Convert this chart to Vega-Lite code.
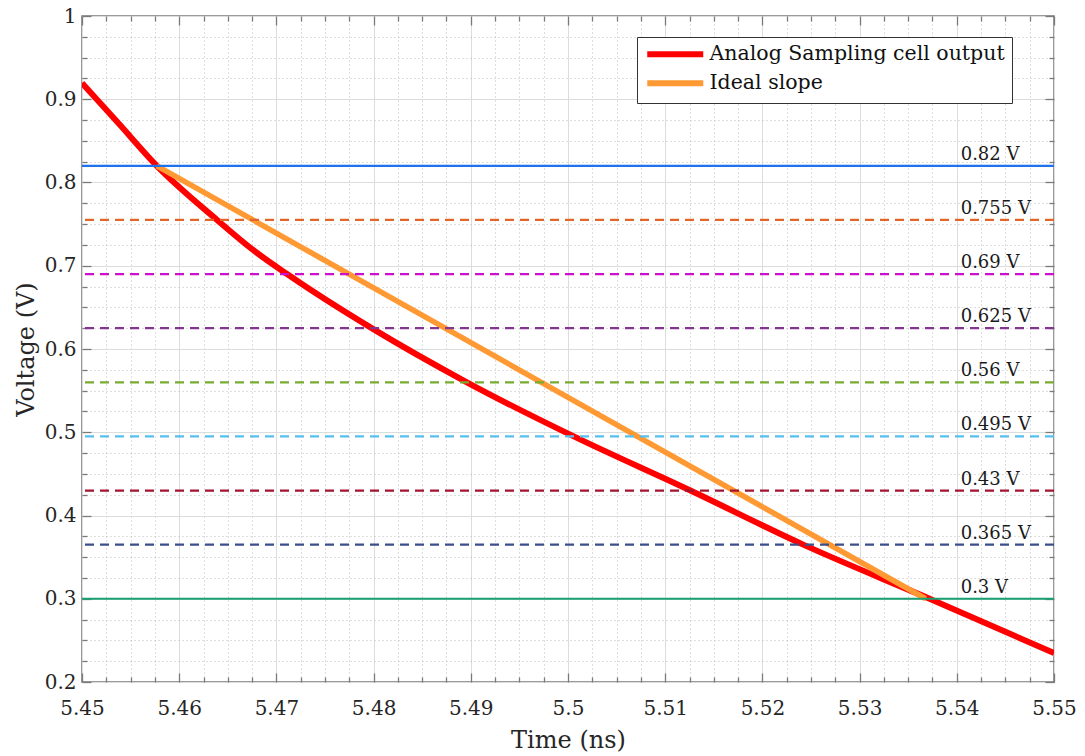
{
  "$schema": "https://vega.github.io/schema/vega-lite/v6.json",
  "width": 972,
  "height": 666,
  "autosize": "none",
  "padding": {"left": 82, "top": 16, "right": 31, "bottom": 74},
  "background": "white",
  "config": {
    "font": "DejaVu Serif",
    "view": {"stroke": "#7a7a7a", "strokeWidth": 1.5}
  },
  "datasets": {
    "curve": [
      {"series": "Analog Sampling cell output", "t": 5.45, "v": 0.9195},
      {"series": "Analog Sampling cell output", "t": 5.4538, "v": 0.8705},
      {"series": "Analog Sampling cell output", "t": 5.4577, "v": 0.82},
      {"series": "Analog Sampling cell output", "t": 5.4639, "v": 0.755},
      {"series": "Analog Sampling cell output", "t": 5.4676, "v": 0.719},
      {"series": "Analog Sampling cell output", "t": 5.4711, "v": 0.69},
      {"series": "Analog Sampling cell output", "t": 5.4798, "v": 0.625},
      {"series": "Analog Sampling cell output", "t": 5.4896, "v": 0.56},
      {"series": "Analog Sampling cell output", "t": 5.5006, "v": 0.495},
      {"series": "Analog Sampling cell output", "t": 5.5126, "v": 0.43},
      {"series": "Analog Sampling cell output", "t": 5.5242, "v": 0.365},
      {"series": "Analog Sampling cell output", "t": 5.5372, "v": 0.3},
      {"series": "Analog Sampling cell output", "t": 5.55, "v": 0.2348}
    ],
    "ideal": [
      {"series": "Ideal slope", "t": 5.4577, "v": 0.82},
      {"series": "Ideal slope", "t": 5.5368, "v": 0.3}
    ],
    "levels": [
      {"v": 0.82, "label": "0.82 V"},
      {"v": 0.755, "label": "0.755 V"},
      {"v": 0.69, "label": "0.69 V"},
      {"v": 0.625, "label": "0.625 V"},
      {"v": 0.56, "label": "0.56 V"},
      {"v": 0.495, "label": "0.495 V"},
      {"v": 0.43, "label": "0.43 V"},
      {"v": 0.365, "label": "0.365 V"},
      {"v": 0.3, "label": "0.3 V"}
    ]
  },
  "resolve": {"axis": {"x": "independent", "y": "independent"}, "scale": {"color": "independent"}},
  "layer": [
    {
      "data": {"name": "curve"},
      "mark": {"type": "line", "strokeWidth": 6, "interpolate": "monotone", "clip": true},
      "encoding": {
        "x": {
          "field": "t", "type": "quantitative",
          "scale": {"domain": [5.45, 5.55], "nice": false, "zero": false},
          "axis": {
            "orient": "bottom",
            "title": "Time (ns)",
            "titleFont": "DejaVu Serif", "titleFontSize": 24, "titleFontWeight": "normal", "titleColor": "#262626", "titlePadding": 6,
            "values": [5.45, 5.4525, 5.455, 5.4575, 5.46, 5.4625, 5.465, 5.4675, 5.47, 5.4725, 5.475, 5.4775, 5.48, 5.4825, 5.485, 5.4875, 5.49, 5.4925, 5.495, 5.4975, 5.5, 5.5025, 5.505, 5.5075, 5.51, 5.5125, 5.515, 5.5175, 5.52, 5.5225, 5.525, 5.5275, 5.53, 5.5325, 5.535, 5.5375, 5.54, 5.5425, 5.545, 5.5475, 5.55],
            "labelExpr": "abs(datum.value*100 - round(datum.value*100)) < 0.001 ? format(datum.value, '.3~f') : ''",
            "labelFont": "DejaVu Serif", "labelFontSize": 20, "labelColor": "#262626", "labelPadding": 25,
            "labelFlush": false, "labelOverlap": false,
            "domain": false,
            "tickColor": "#7a7a7a", "tickWidth": 1.3,
            "tickSize": {"condition": {"test": "abs(datum.value*100 - round(datum.value*100)) < 0.001", "value": -9}, "value": -5},
            "grid": true,
            "gridColor": {"condition": {"test": "abs(datum.value*100 - round(datum.value*100)) < 0.001", "value": "#dcdcdc"}, "value": "#bdbdbd"},
            "gridDash": {"condition": {"test": "abs(datum.value*100 - round(datum.value*100)) < 0.001", "value": []}, "value": [1, 3]},
            "gridWidth": 1
          }
        },
        "y": {
          "field": "v", "type": "quantitative",
          "scale": {"domain": [0.2, 1], "nice": false, "zero": false},
          "axis": {
            "orient": "left",
            "title": "Voltage (V)",
            "titleFont": "DejaVu Serif", "titleFontSize": 24, "titleFontWeight": "normal", "titleColor": "#262626", "titlePadding": 6,
            "values": [0.2, 0.225, 0.25, 0.275, 0.3, 0.325, 0.35, 0.375, 0.4, 0.425, 0.45, 0.475, 0.5, 0.525, 0.55, 0.575, 0.6, 0.625, 0.65, 0.675, 0.7, 0.725, 0.75, 0.775, 0.8, 0.825, 0.85, 0.875, 0.9, 0.925, 0.95, 0.975, 1],
            "labelExpr": "abs(datum.value*10 - round(datum.value*10)) < 0.001 ? format(datum.value, '.2~f') : ''",
            "labelFont": "DejaVu Serif", "labelFontSize": 20, "labelColor": "#262626", "labelPadding": 15,
            "labelFlush": false, "labelOverlap": false,
            "domain": false,
            "tickColor": "#7a7a7a", "tickWidth": 1.3,
            "tickSize": {"condition": {"test": "abs(datum.value*10 - round(datum.value*10)) < 0.001", "value": -9}, "value": -5},
            "grid": true,
            "gridColor": {"condition": {"test": "abs(datum.value*10 - round(datum.value*10)) < 0.001", "value": "#dcdcdc"}, "value": "#bdbdbd"},
            "gridDash": {"condition": {"test": "abs(datum.value*10 - round(datum.value*10)) < 0.001", "value": []}, "value": [1, 3]},
            "gridWidth": 1
          }
        },
        "color": {
          "field": "series", "type": "nominal",
          "scale": {"domain": ["Analog Sampling cell output", "Ideal slope"], "range": ["#ff0000", "#ff9933"]},
          "legend": {
            "title": null,
            "orient": "none",
            "legendX": 555,
            "legendY": 21,
            "direction": "vertical",
            "fillColor": "white",
            "strokeColor": "#333333",
            "padding": 7,
            "rowPadding": 4,
            "symbolType": "M-4,0H4",
            "symbolSize": 196,
            "symbolStrokeWidth": 6,
            "symbolOffset": 21,
            "labelOffset": 24,
            "labelFont": "DejaVu Serif",
            "labelFontSize": 20.5,
            "labelColor": "#111111",
            "labelLimit": 500
          }
        }
      }
    },
    {
      "data": {"name": "ideal"},
      "mark": {"type": "line", "strokeWidth": 5.5, "clip": true},
      "encoding": {
        "x": {
          "field": "t", "type": "quantitative",
          "axis": {
            "orient": "top", "title": null, "labels": false, "grid": false, "domain": false,
            "values": [5.45, 5.4525, 5.455, 5.4575, 5.46, 5.4625, 5.465, 5.4675, 5.47, 5.4725, 5.475, 5.4775, 5.48, 5.4825, 5.485, 5.4875, 5.49, 5.4925, 5.495, 5.4975, 5.5, 5.5025, 5.505, 5.5075, 5.51, 5.5125, 5.515, 5.5175, 5.52, 5.5225, 5.525, 5.5275, 5.53, 5.5325, 5.535, 5.5375, 5.54, 5.5425, 5.545, 5.5475, 5.55],
            "tickColor": "#7a7a7a", "tickWidth": 1.3,
            "tickSize": {"condition": {"test": "abs(datum.value*100 - round(datum.value*100)) < 0.001", "value": -9}, "value": -5}
          }
        },
        "y": {
          "field": "v", "type": "quantitative",
          "axis": {
            "orient": "right", "title": null, "labels": false, "grid": false, "domain": false,
            "values": [0.2, 0.225, 0.25, 0.275, 0.3, 0.325, 0.35, 0.375, 0.4, 0.425, 0.45, 0.475, 0.5, 0.525, 0.55, 0.575, 0.6, 0.625, 0.65, 0.675, 0.7, 0.725, 0.75, 0.775, 0.8, 0.825, 0.85, 0.875, 0.9, 0.925, 0.95, 0.975, 1],
            "tickColor": "#7a7a7a", "tickWidth": 1.3,
            "tickSize": {"condition": {"test": "abs(datum.value*10 - round(datum.value*10)) < 0.001", "value": -9}, "value": -5}
          }
        },
        "color": {
          "field": "series", "type": "nominal",
          "scale": {"domain": ["Analog Sampling cell output", "Ideal slope"], "range": ["#ff0000", "#ff9933"]},
          "legend": null
        }
      }
    },
    {
      "data": {"name": "levels"},
      "mark": {"type": "rule", "strokeWidth": 2.2},
      "encoding": {
        "y": {"field": "v", "type": "quantitative", "axis": null},
        "color": {
          "field": "label", "type": "nominal", "legend": null,
          "scale": {
            "domain": ["0.82 V", "0.755 V", "0.69 V", "0.625 V", "0.56 V", "0.495 V", "0.43 V", "0.365 V", "0.3 V"],
            "range": ["#1f72ee", "#e0662b", "#cc11cc", "#84358f", "#77ac30", "#55c0ee", "#a2142f", "#3b4f8a", "#18a072"]
          }
        },
        "strokeDash": {"condition": {"test": "datum.v == 0.82 || datum.v == 0.3", "value": [1, 0]}, "value": [9, 6]}
      }
    },
    {
      "data": {"name": "levels"},
      "mark": {"type": "text", "align": "left", "baseline": "alphabetic", "dy": -6, "font": "DejaVu Serif", "fontSize": 18, "color": "#1a1a1a"},
      "encoding": {
        "x": {"datum": 5.5404, "type": "quantitative", "axis": null},
        "y": {"field": "v", "type": "quantitative", "axis": null},
        "text": {"field": "label", "type": "nominal"}
      }
    }
  ]
}
